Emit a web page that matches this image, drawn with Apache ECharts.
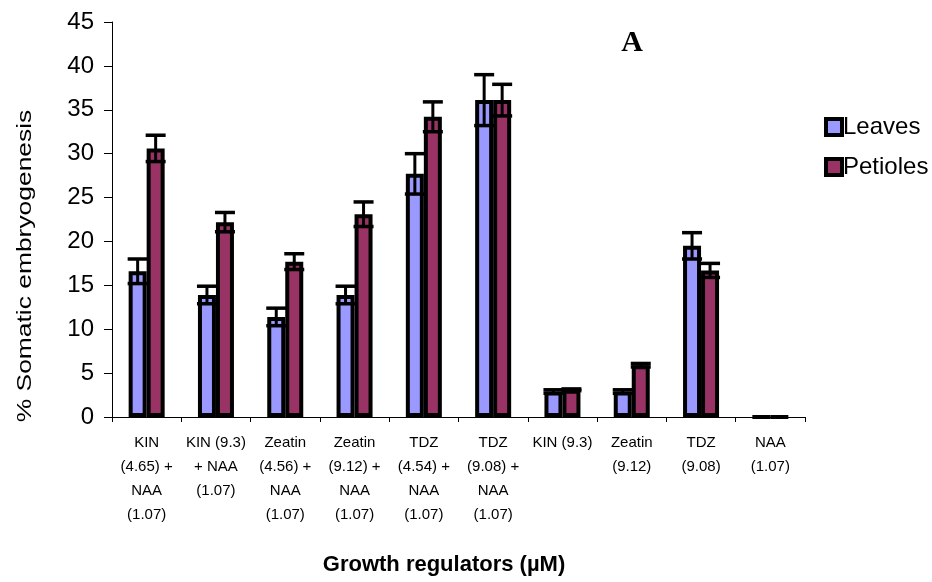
<!DOCTYPE html>
<html>
<head>
<meta charset="utf-8">
<script src="https://cdn.jsdelivr.net/npm/echarts@6/dist/echarts.min.js"></script>
<style>html,body{margin:0;padding:0;background:#fff}#c{width:932px;height:582px}</style>
</head>
<body>
<div id="c"></div>
<script>
var categories = [
  "KIN\n(4.65) +\nNAA\n(1.07)",
  "KIN (9.3)\n+ NAA\n(1.07)",
  "Zeatin\n(4.56) +\nNAA\n(1.07)",
  "Zeatin\n(9.12) +\nNAA\n(1.07)",
  "TDZ\n(4.54) +\nNAA\n(1.07)",
  "TDZ\n(9.08) +\nNAA\n(1.07)",
  "KIN (9.3)",
  "Zeatin\n(9.12)",
  "TDZ\n(9.08)",
  "NAA\n(1.07)"
];
var leaves = [16.6, 13.9, 11.4, 13.9, 27.7, 36.1, 2.9, 2.9, 19.5, 0];
var leavesErr = [1.4, 1.0, 1.0, 1.0, 2.3, 2.9, 0.2, 0.2, 1.5, 0];
var petioles = [30.6, 22.2, 17.7, 23.1, 34.2, 36.1, 3.1, 5.9, 16.7, 0];
var petiolesErr = [1.5, 1.1, 0.9, 1.4, 1.7, 1.8, 0.1, 0.2, 0.8, 0];
var yTicks = [0, 5, 10, 15, 20, 25, 30, 35, 40, 45];

var BAR_W = 18;

function errData(vals, errs) {
  return vals.map(function (v, i) { return [i, v, errs[i]]; });
}
function errRender(offset) {
  return function (params, api) {
    var i = api.value(0), v = api.value(1), e = api.value(2);
    if (!e) return null;
    var top = api.coord([i, v + e]);
    var bot = api.coord([i, v - e]);
    var x = top[0] + offset;
    var hw = BAR_W / 2 + 1;
    var st = { stroke: '#000', lineWidth: 3.5 };
    return {
      type: 'group',
      children: [
        { type: 'line', shape: { x1: x, y1: top[1], x2: x, y2: bot[1] }, style: { stroke: '#000', lineWidth: 3 } },
        { type: 'line', shape: { x1: x - hw, y1: top[1], x2: x + hw, y2: top[1] }, style: st },
        { type: 'line', shape: { x1: x - hw, y1: bot[1], x2: x + hw, y2: bot[1] }, style: st }
      ]
    };
  };
}

var chart = echarts.init(document.getElementById('c'));
chart.setOption({
  animation: false,
  backgroundColor: '#fff',
  grid: { left: 112, right: 127, top: 22, bottom: 165, containLabel: false },
  legend: {
    orient: 'vertical',
    left: 824,
    top: 115,
    padding: 0,
    itemWidth: 16,
    itemHeight: 16,
    itemGap: 16,
    icon: 'rect',
    data: ['Leaves', 'Petioles'],
    itemStyle: { borderColor: '#000', borderWidth: 4 },
    textStyle: { fontFamily: 'Liberation Sans, Arial', fontSize: 24, lineHeight: 24, color: '#000', padding: [0, 0, 0, -4] }
  },
  xAxis: {
    type: 'category',
    data: categories,
    axisLine: { lineStyle: { color: '#000', width: 1 } },
    axisTick: { show: true, length: 5, lineStyle: { color: '#000' } },
    axisLabel: {
      interval: 0,
      margin: 14,
      color: '#000',
      fontFamily: 'Liberation Sans Narrow, Liberation Sans, Arial',
      fontSize: 15,
      lineHeight: 24
    }
  },
  yAxis: {
    type: 'value',
    min: 0,
    max: 45,
    interval: 5,
    splitLine: { show: false },
    axisLine: { show: true, lineStyle: { color: '#000', width: 1 } },
    axisTick: { show: true, length: 8, lineStyle: { color: '#000' } },
    axisLabel: {
      margin: 18,
      color: '#000',
      fontFamily: 'Liberation Sans, Arial',
      fontSize: 24,
      formatter: function (v) { return yTicks.indexOf(v) >= 0 ? String(v) : ''; }
    }
  },
  graphic: [
    {
      type: 'text', x: 25, y: 266, rotation: Math.PI / 2, scaleX: 1.32, scaleY: 1,
      style: { text: '% Somatic embryogenesis', fill: '#000', font: '20px Liberation Sans, Arial', align: 'center', verticalAlign: 'middle' }
    },
    {
      type: 'text', x: 444, y: 565,
      style: { text: 'Growth regulators (\u00b5M)', fill: '#000', font: 'bold 22px Liberation Sans, Arial', align: 'center', verticalAlign: 'middle' }
    },
    {
      type: 'text', x: 632, y: 43,
      style: { text: 'A', fill: '#000', font: 'bold 30px Liberation Serif, Times New Roman', align: 'center', verticalAlign: 'middle' }
    }
  ],
  series: [
    {
      name: 'Leaves', type: 'bar', data: leaves, barWidth: BAR_W, barGap: '0%',
      itemStyle: { color: '#9999FF', borderColor: '#000', borderWidth: 4 }
    },
    {
      name: 'Petioles', type: 'bar', data: petioles, barWidth: BAR_W, barGap: '0%',
      itemStyle: { color: '#993366', borderColor: '#000', borderWidth: 4 }
    },
    {
      type: 'custom', name: 'errL', data: errData(leaves, leavesErr),
      renderItem: errRender(-BAR_W / 2), z: 10, silent: true
    },
    {
      type: 'custom', name: 'errP', data: errData(petioles, petiolesErr),
      renderItem: errRender(BAR_W / 2), z: 10, silent: true
    }
  ]
});
</script>
</body>
</html>
